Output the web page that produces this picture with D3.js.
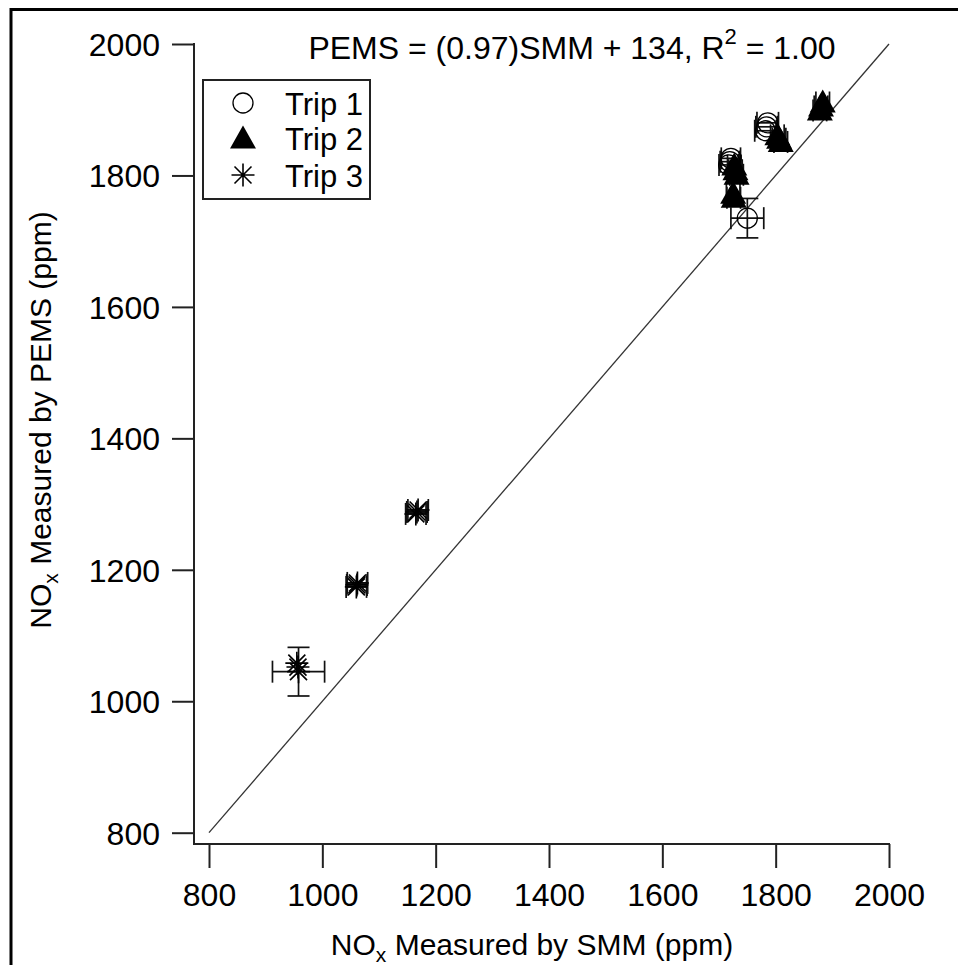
<!DOCTYPE html>
<html>
<head>
<meta charset="utf-8">
<script src="https://cdn.jsdelivr.net/npm/d3@7"></script>
<style>
  html, body { margin: 0; padding: 0; background: #fff; }
  svg { display: block; }
  text { font-family: "Liberation Sans", Arial, sans-serif; fill: #000; }
</style>
</head>
<body>
<svg id="chart" width="958" height="965"></svg>
<script>
// NOx comparison: PEMS vs. SMM, three trips
const xTicks = [800, 1000, 1200, 1400, 1600, 1800, 2000];
const yTicks = [800, 1000, 1200, 1400, 1600, 1800, 2000];

// Trip 1 (open circles)
const trip1X    = [1782, 1784, 1786, 1717, 1719, 1721, 1750];
const trip1Y    = [1868, 1874, 1880, 1816, 1821, 1826, 1735];
const trip1XErr = [19, 19, 19, 17, 17, 17, 29];
const trip1YErr = [0, 0, 0, 0, 0, 0, 30];

// Trip 2 (filled triangles)
const trip2X    = [1878, 1880, 1883, 1803, 1806, 1809, 1727, 1729, 1731, 1725, 1726];
const trip2Y    = [1899, 1905, 1911, 1861, 1856, 1851, 1815, 1808, 1801, 1772, 1766];
const trip2XErr = [12, 12, 12, 12, 12, 12, 12, 12, 12, 12, 12];
const trip2YErr = [0, 0, 0, 0, 0, 0, 0, 0, 0, 0, 0];

// Trip 3 (asterisks)
const trip3X    = [1165, 1167, 1169, 1060, 1061, 1062, 955, 957, 958];
const trip3Y    = [1285, 1288, 1291, 1174, 1177, 1180, 1058, 1052, 1045];
const trip3XErr = [18, 18, 18, 18, 18, 18, 0, 0, 46];
const trip3YErr = [0, 0, 0, 0, 0, 0, 0, 0, 37];

const legendLabels = ["Trip 1", "Trip 2", "Trip 3"];
const fitText = "PEMS = (0.97)SMM + 134, R";
const fitTail = " = 1.00";

const svg = d3.select("#chart");

const x = d3.scaleLinear().domain([800, 2000]).range([209, 889]);
const y = d3.scaleLinear().domain([800, 2000]).range([832.7, 44]);

const axisLeftX = 194, axisBottomY = 844;
const fsTick = 32;

// outer frame (top and left edges)
svg.append("line").attr("x1", 11).attr("x2", 958).attr("y1", 9.5).attr("y2", 9.5)
  .attr("stroke", "#000").attr("stroke-width", 3);
svg.append("line").attr("x1", 11).attr("x2", 11).attr("y1", 8).attr("y2", 965)
  .attr("stroke", "#000").attr("stroke-width", 3);

// y axis
const yAxis = d3.axisLeft(y).tickValues(yTicks).tickSize(22).tickPadding(12).tickFormat(d3.format("d"));
const gy = svg.append("g").attr("transform", `translate(${axisLeftX},0)`).call(yAxis);
gy.select(".domain").remove();
gy.append("line").attr("x1", 0).attr("x2", 0).attr("y1", y(2000) - 1).attr("y2", axisBottomY + 1)
  .attr("stroke", "#222").attr("stroke-width", 2);
gy.selectAll(".tick line").attr("stroke", "#222").attr("stroke-width", 2);
gy.selectAll(".tick text").attr("font-size", fsTick).attr("fill", "#000")
  .attr("font-family", "'Liberation Sans', Arial, sans-serif").attr("dy", "0.36em");

// x axis
const xAxis = d3.axisBottom(x).tickValues(xTicks).tickSize(24).tickPadding(15).tickFormat(d3.format("d"));
const gx = svg.append("g").attr("transform", `translate(0,${axisBottomY})`).call(xAxis);
gx.select(".domain").remove();
gx.append("line").attr("x1", axisLeftX - 1).attr("x2", x(2000) + 1).attr("y1", 0).attr("y2", 0)
  .attr("stroke", "#222").attr("stroke-width", 2);
gx.selectAll(".tick line").attr("stroke", "#222").attr("stroke-width", 2);
gx.selectAll(".tick text").attr("font-size", fsTick).attr("fill", "#000")
  .attr("font-family", "'Liberation Sans', Arial, sans-serif").attr("dy", "0.71em");

// axis titles
const xt = svg.append("text").attr("x", 532).attr("y", 955).attr("text-anchor", "middle").attr("font-size", 30);
xt.append("tspan").text("NO");
xt.append("tspan").attr("font-size", 21).attr("dy", 7).text("x");
xt.append("tspan").attr("dy", -7).text(" Measured by SMM (ppm)");

const yt = svg.append("text").attr("transform", "translate(51,420) rotate(-90)")
  .attr("text-anchor", "middle").attr("font-size", 30);
yt.append("tspan").text("NO");
yt.append("tspan").attr("font-size", 21).attr("dy", 7).text("x");
yt.append("tspan").attr("dy", -7).text(" Measured by PEMS (ppm)");

// 1:1 reference line
svg.append("line")
  .attr("x1", x(800)).attr("y1", y(800)).attr("x2", x(2000)).attr("y2", y(2000))
  .attr("stroke", "#333").attr("stroke-width", 1.3);

// fit equation
const eq = svg.append("text").attr("x", 572).attr("y", 59).attr("text-anchor", "middle").attr("font-size", 32);
eq.append("tspan").text(fitText);
eq.append("tspan").attr("font-size", 22).attr("dy", -15).text("2");
eq.append("tspan").attr("dy", 15).text(fitTail);

// markers
const cap = 11;
function errorBars(g, xs, ys, xe, ye) {
  xs.forEach((xv, i) => {
    const px = x(xv), py = y(ys[i]);
    if (xe[i] > 0) {
      const l = x(xv - xe[i]), r = x(xv + xe[i]);
      g.append("line").attr("x1", l).attr("x2", r).attr("y1", py).attr("y2", py);
      g.append("line").attr("x1", l).attr("x2", l).attr("y1", py - cap).attr("y2", py + cap);
      g.append("line").attr("x1", r).attr("x2", r).attr("y1", py - cap).attr("y2", py + cap);
    }
    if (ye[i] > 0) {
      const t = y(ys[i] + ye[i]), b = y(ys[i] - ye[i]);
      g.append("line").attr("x1", px).attr("x2", px).attr("y1", t).attr("y2", b);
      g.append("line").attr("x1", px - cap).attr("x2", px + cap).attr("y1", t).attr("y2", t);
      g.append("line").attr("x1", px - cap).attr("x2", px + cap).attr("y1", b).attr("y2", b);
    }
  });
}

const triPath = "M0,-13 L13,10 L-13,10 Z";
const astPath = "M0,-11.5V11.5M-11.5,0H11.5M-8.5,-8.5L8.5,8.5M-8.5,8.5L8.5,-8.5";

function drawCircle(g, cx, cy) {
  g.append("circle").attr("cx", cx).attr("cy", cy).attr("r", 10)
    .attr("fill", "none").attr("stroke", "#000").attr("stroke-width", 1.3);
}
function drawTri(g, cx, cy) {
  g.append("path").attr("d", triPath).attr("transform", `translate(${cx},${cy})`).attr("fill", "#000");
}
function drawAst(g, cx, cy) {
  g.append("path").attr("d", astPath).attr("transform", `translate(${cx},${cy})`)
    .attr("fill", "none").attr("stroke", "#000").attr("stroke-width", 1.6);
}

const eb = svg.append("g").attr("stroke", "#111").attr("stroke-width", 1.7);
errorBars(eb, trip1X, trip1Y, trip1XErr, trip1YErr);
errorBars(eb, trip2X, trip2Y, trip2XErr, trip2YErr);
errorBars(eb, trip3X, trip3Y, trip3XErr, trip3YErr);

const mk = svg.append("g");
trip1X.forEach((v, i) => drawCircle(mk, x(v), y(trip1Y[i])));
trip2X.forEach((v, i) => drawTri(mk, x(v), y(trip2Y[i])));
trip3X.forEach((v, i) => drawAst(mk, x(v), y(trip3Y[i])));

// legend
const lg = svg.append("g");
lg.append("rect").attr("x", 203).attr("y", 80).attr("width", 167).attr("height", 119)
  .attr("fill", "#fff").attr("stroke", "#222").attr("stroke-width", 2);
const rows = [103, 138.5, 175];
drawCircle(lg, 243, rows[0]);
drawTri(lg, 243, rows[1]);
drawAst(lg, 243, rows[2]);
legendLabels.forEach((t, i) => {
  lg.append("text").attr("x", 285).attr("y", rows[i] + 11.5).attr("font-size", 31).text(t);
});
</script>
</body>
</html>
